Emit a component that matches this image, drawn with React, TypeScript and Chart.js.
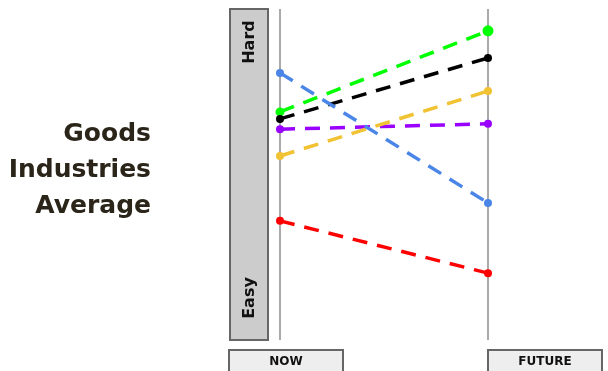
import React, { useEffect, useRef } from "react";
import { Chart, registerables } from "chart.js";

Chart.register(...registerables);

// Difficulty score (0 = easy, 100 = hard) now and in the future
const periods = ["NOW", "FUTURE"];
const blueSeries = [80.7, 41.4];
const greenSeries = [68.9, 93.4];
const blackSeries = [66.8, 85.2];
const purpleSeries = [63.7, 65.3];
const orangeSeries = [55.6, 75.2];
const redSeries = [36.0, 20.2];

const titleLines = ["Goods", "Industries", "Average"];
const scaleTop = "Hard";
const scaleBottom = "Easy";

const W = 608;
const H = 371;
const FONT = "'DejaVu Sans', sans-serif";

const decorations = {
  id: "decorations",
  beforeDatasetsDraw(chart: any) {
    const { ctx, chartArea, scales } = chart;
    const x = scales.x;
    ctx.save();
    // difficulty bar on the left
    ctx.fillStyle = "#cccccc";
    ctx.strokeStyle = "#666666";
    ctx.lineWidth = 2;
    ctx.fillRect(230, chartArea.top, 38, chartArea.bottom - chartArea.top);
    ctx.strokeRect(230, chartArea.top, 38, chartArea.bottom - chartArea.top);
    // period guide lines
    ctx.strokeStyle = "#aaaaaa";
    ctx.lineWidth = 2;
    periods.forEach((_, i) => {
      const px = Math.round(x.getPixelForValue(i));
      ctx.beginPath();
      ctx.moveTo(px, chartArea.top);
      ctx.lineTo(px, chartArea.bottom);
      ctx.stroke();
    });
    ctx.restore();
  },
  afterDraw(chart: any) {
    const { ctx, scales } = chart;
    const x = scales.x;
    ctx.save();
    // bar labels
    ctx.fillStyle = "#111111";
    ctx.font = `bold 16px ${FONT}`;
    ctx.textAlign = "center";
    ctx.textBaseline = "middle";
    const bx = 249;
    [[scaleTop, 42], [scaleBottom, 298]].forEach(([t, cy]) => {
      ctx.save();
      ctx.translate(bx, cy as number);
      ctx.rotate(-Math.PI / 2);
      ctx.fillText(t as string, 0, 1);
      ctx.restore();
    });
    // period boxes
    const boxes = [
      { left: 229, width: 114 },
      { left: Math.round(x.getPixelForValue(1)), width: 114 },
    ];
    periods.forEach((p, i) => {
      const b = boxes[i];
      ctx.fillStyle = "#eeeeee";
      ctx.strokeStyle = "#666666";
      ctx.lineWidth = 2;
      ctx.fillRect(b.left, 350, b.width, 30);
      ctx.strokeRect(b.left, 350, b.width, 30);
      ctx.fillStyle = "#111111";
      ctx.font = `bold 12px ${FONT}`;
      ctx.textAlign = "center";
      ctx.textBaseline = "middle";
      ctx.fillText(p, b.left + b.width / 2, 362);
    });
    // title
    ctx.fillStyle = "#2a2419";
    ctx.font = `bold 25px ${FONT}`;
    ctx.textAlign = "right";
    ctx.textBaseline = "middle";
    titleLines.forEach((t, i) => {
      ctx.fillText(t, 151, 134 + i * 36);
    });
    ctx.restore();
  },
};

function line(data: number[], color: string, radius: number[] = [4, 4]) {
  return {
    data,
    borderColor: color,
    backgroundColor: color,
    pointBackgroundColor: color,
    pointBorderColor: color,
    pointRadius: radius,
    pointBorderWidth: 0,
    borderWidth: 3.5,
    borderDash: [15, 10],
    borderCapStyle: "butt" as const,
    fill: false,
    tension: 0,
    clip: false as const,
  };
}

export default function App() {
  const ref = useRef<HTMLCanvasElement>(null);
  useEffect(() => {
    if (!ref.current) return;
    const chart = new Chart(ref.current, {
      type: "line",
      data: {
        labels: periods,
        datasets: [
          line(redSeries, "#ff0000"),
          line(blueSeries, "#4a86e8"),
          line(orangeSeries, "#f1c232"),
          line(purpleSeries, "#9900ff"),
          line(blackSeries, "#000000"),
          line(greenSeries, "#00ff00", [4.5, 5.5]),
        ],
      },
      options: {
        responsive: false,
        animation: false,
        layout: { padding: { left: 280, right: W - 488, top: 9, bottom: H - 340 } },
        plugins: { legend: { display: false }, tooltip: { enabled: false } },
        scales: {
          x: { type: "category", display: false, offset: false },
          y: { display: false, min: 0, max: 100 },
        },
      },
      plugins: [decorations],
    });
    return () => chart.destroy();
  }, []);
  return (
    <div style={{ position: "fixed", left: 0, top: 0, width: W, height: H, background: "#fff" }}>
      <canvas ref={ref} width={W} height={H} />
    </div>
  );
}
